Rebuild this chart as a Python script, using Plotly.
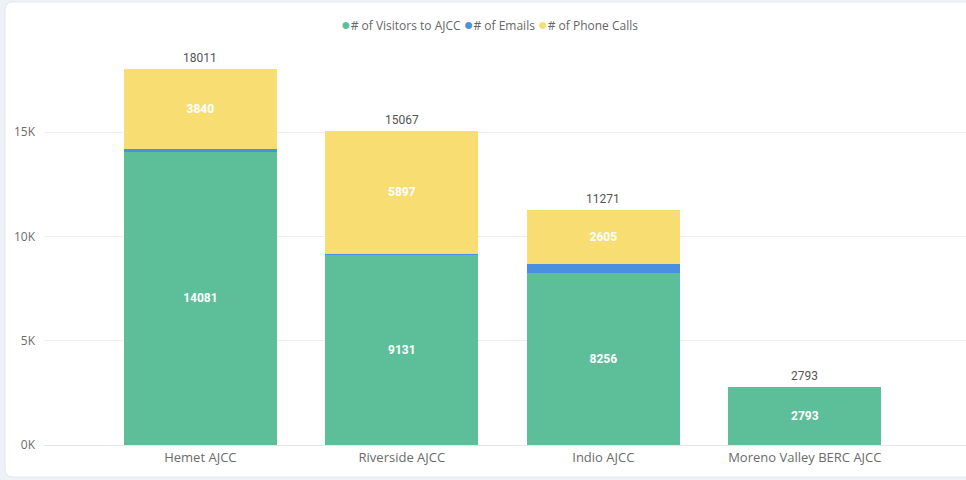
import plotly.graph_objects as go

categories = ["Hemet AJCC", "Riverside AJCC", "Indio AJCC", "Moreno Valley BERC AJCC"]
visitors = [14081, 9131, 8256, 2793]
emails = [90, 39, 410, 0]
phone_calls = [3840, 5897, 2605, 0]
totals = [18011, 15067, 11271, 2793]
series_names = ["# of Visitors to AJCC", "# of Emails", "# of Phone Calls"]
y_tickvals = [0, 5000, 10000, 15000]
y_ticktext = ["0K", "5K", "10K", "15K"]

GREEN = "#5CBF99"
BLUE = "#4A8FE0"
YELLOW = "#F7DD72"
colors = [GREEN, BLUE, YELLOW]
inner_font = dict(family="Roboto, DejaVu Sans", size=12, color="white", weight="bold")

def labels(vals):
    return [str(v) if v > 0 else "" for v in vals]

fig = go.Figure()
fig.add_trace(go.Bar(
    x=categories, y=visitors, name=series_names[0], marker_color=GREEN,
    text=labels(visitors), textposition="inside", insidetextanchor="middle",
    textfont=inner_font, width=0.76, marker_line_width=0, hoverinfo="skip", textangle=0))
fig.add_trace(go.Bar(
    x=categories, y=emails, name=series_names[1], marker_color=BLUE,
    textposition="none", width=0.76, marker_line_width=0, hoverinfo="skip"))
fig.add_trace(go.Bar(
    x=categories, y=phone_calls, name=series_names[2], marker_color=YELLOW,
    text=labels(phone_calls), textposition="inside", insidetextanchor="middle",
    textfont=inner_font, width=0.76, marker_line_width=0, hoverinfo="skip", textangle=0))

for c, t in zip(categories, totals):
    fig.add_annotation(x=c, y=t, text=str(t), showarrow=False, yanchor="bottom", yshift=2,
                       font=dict(family="Roboto, DejaVu Sans", size=12, color="#555555"))

# page body margin is removed below, so window px == figure px
W, H = 966, 480
PL, PR, PT, PB = 44, 966, 45, 445          # plot area in window pixels
L, R, T, B = PL, W - PR, PT, H - PB
pw, ph = PR - PL, PB - PT
def px(x): return (x - PL) / pw
def py(y): return (PB - y) / ph
x0, x1, y0, y1 = px(5), px(990), py(477), py(2)
rx, ry = 8 / pw, 8 / ph
path = (f"M {x0+rx},{y1} L {x1},{y1} L {x1},{y0} L {x0+rx},{y0} "
        f"Q {x0},{y0} {x0},{y0+ry} L {x0},{y1-ry} Q {x0},{y1} {x0+rx},{y1} Z")
fig.add_shape(type="path", path=path, xref="paper", yref="paper",
              fillcolor="white", line=dict(color="#E3E6EA", width=1), layer="below")

# legend as a single line of text with coloured dots
legend_text = "".join(
    f"<span style='color:{col};font-size:16px'>●</span>{nm} " for nm, col in zip(series_names, colors)
).strip()
fig.add_annotation(xref="paper", yref="paper", x=px(489), y=py(24), xanchor="center",
                   yanchor="middle", showarrow=False, text=legend_text,
                   font=dict(family="Open Sans, Noto Sans, sans-serif", size=12, color="#666666"))

fig.update_layout(
    width=W, height=H,
    margin=dict(l=L, r=R, t=T, b=B, autoexpand=False),
    barmode="stack",
    showlegend=False,
    paper_bgcolor="#EEF2F7",
    plot_bgcolor="rgba(0,0,0,0)",
    font=dict(family="Open Sans, Noto Sans, sans-serif", color="#666666", size=12),
    xaxis=dict(range=[-0.776, 3.8], showgrid=False, zeroline=False, showline=False,
               tickfont=dict(size=13, color="#6B6B6B"), ticks="", fixedrange=True,
               automargin=False, ticklabelstandoff=3),
    yaxis=dict(range=[0, ph / ((445 - 132) / 15000)], tickvals=y_tickvals, ticktext=y_ticktext,
               showgrid=True, gridcolor="#EDEDED", gridwidth=1, zeroline=True,
               zerolinecolor="#E6E6E6", zerolinewidth=1, automargin=False,
               tickfont=dict(size=12, color="#6B6B6B"), ticks="", ticklabelstandoff=8),
)
fig.write_html("out.html", config={"displayModeBar": False},
               post_script="document.body.style.margin='0px';document.body.style.background='#EEF2F7';")
